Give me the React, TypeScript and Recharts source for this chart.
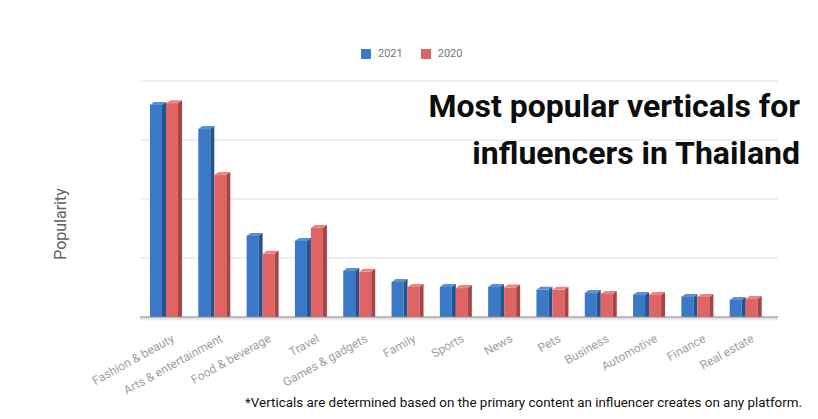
import { BarChart, Bar, XAxis, YAxis, CartesianGrid } from "recharts";

const categories = [
  "Fashion & beauty",
  "Arts & entertainment",
  "Food & beverage",
  "Travel",
  "Games & gadgets",
  "Family",
  "Sports",
  "News",
  "Pets",
  "Business",
  "Automotive",
  "Finance",
  "Real estate",
];
const values2021 = [71.9, 63.7, 27.5, 25.8, 15.6, 11.9, 10.2, 10.2, 9.2, 8.1, 7.5, 6.8, 5.8];
const values2020 = [72.5, 48.1, 21.4, 30.2, 15.3, 10.2, 9.8, 10.0, 9.2, 7.8, 7.5, 6.8, 6.1];
const seriesNames = ["2021", "2020"];
const yTicks = [0, 20, 40, 60, 80];

const data = categories.map((name, i) => ({
  name,
  y2021: values2021[i],
  y2020: values2020[i],
}));

const FONT = "Roboto, 'Noto Sans', sans-serif";

// fake 3D box: front face, lighter top, darker right side
function makeBox(front: string, top: string, side: string) {
  return (props: any) => {
    const { x, y, width, height } = props;
    if (!height || height <= 0) return <g />;
    const d = 4;
    const up = 3;
    const fw = width - d;
    return (
      <g>
        <rect x={x} y={y} width={fw} height={height} fill={front} />
        <polygon
          points={`${x},${y} ${x + d},${y - up} ${x + width},${y - up} ${x + fw},${y}`}
          fill={top}
        />
        <polygon
          points={`${x + fw},${y} ${x + width},${y - up} ${x + width},${y + height} ${x + fw},${y + height}`}
          fill={side}
        />
      </g>
    );
  };
}

const BlueBox = makeBox("#3b78c6", "#5a90d6", "#24548f");
const RedBox = makeBox("#e06464", "#ec8585", "#a84444");

function AngledTick(props: any) {
  const { x, y, payload } = props;
  return (
    <g transform={`translate(${x + 9},${y + 16})`}>
      <text
        x={0}
        y={0}
        textAnchor="end"
        transform="rotate(-29)"
        fill="#a0a0a0"
        fontSize={12}
        fontFamily={FONT}
      >
        {payload.value}
      </text>
    </g>
  );
}

export default function App() {
  return (
    <div
      style={{
        position: "absolute",
        left: 0,
        top: 0,
        width: 818,
        height: 419,
        background: "#fff",
        fontFamily: FONT,
      }}
    >
      <BarChart
        width={818}
        height={419}
        data={data}
        barSize={16}
        barGap={0}
        margin={{ top: 81, right: 40, left: 140, bottom: 0 }}
      >
        <CartesianGrid vertical={false} stroke="#dedede" />
        <XAxis
          dataKey="name"
          interval={0}
          height={102}
          tickLine={false}
          axisLine={{ stroke: "#8a8a8a" }}
          tick={<AngledTick />}
          padding={{ left: 2, right: 8 }}
        />
        <YAxis hide domain={[0, 80]} ticks={yTicks} />
        <Bar dataKey="y2021" name={seriesNames[0]} shape={BlueBox} isAnimationActive={false} />
        <Bar dataKey="y2020" name={seriesNames[1]} shape={RedBox} isAnimationActive={false} />
      </BarChart>

      {/* soft shadow under the base line */}
      <div
        style={{
          position: "absolute",
          left: 140,
          top: 318,
          width: 638,
          height: 3,
          background: "linear-gradient(#d8d8d8, #ffffff)",
        }}
      />

      {/* legend */}
      <div
        style={{
          position: "absolute",
          left: 361,
          top: 47,
          display: "flex",
          alignItems: "center",
          fontSize: 11,
          color: "#757575",
        }}
      >
        <span style={{ width: 10, height: 10, background: "#3b78c6", display: "inline-block", marginRight: 7 }} />
        <span style={{ marginRight: 18 }}>{seriesNames[0]}</span>
        <span style={{ width: 10, height: 10, background: "#e06464", display: "inline-block", marginRight: 7 }} />
        <span>{seriesNames[1]}</span>
      </div>

      {/* axis title */}
      <div
        style={{
          position: "absolute",
          left: 60,
          top: 224,
          transform: "translate(-50%, -50%) rotate(-90deg)",
          fontSize: 16,
          color: "#5f5f5f",
          whiteSpace: "nowrap",
        }}
      >
        Popularity
      </div>

      {/* chart title */}
      <div
        style={{
          position: "absolute",
          right: 18,
          top: 83,
          textAlign: "right",
          fontSize: 32,
          fontWeight: 700,
          lineHeight: "47px",
          color: "#0d0d0d",
        }}
      >
        Most popular verticals for
        <br />
        influencers in Thailand
      </div>

      {/* footnote */}
      <div
        style={{
          position: "absolute",
          right: 16,
          top: 395,
          fontSize: 13.4,
          color: "#111",
          whiteSpace: "nowrap",
        }}
      >
        *Verticals are determined based on the primary content an influencer creates on any platform.
      </div>
    </div>
  );
}
